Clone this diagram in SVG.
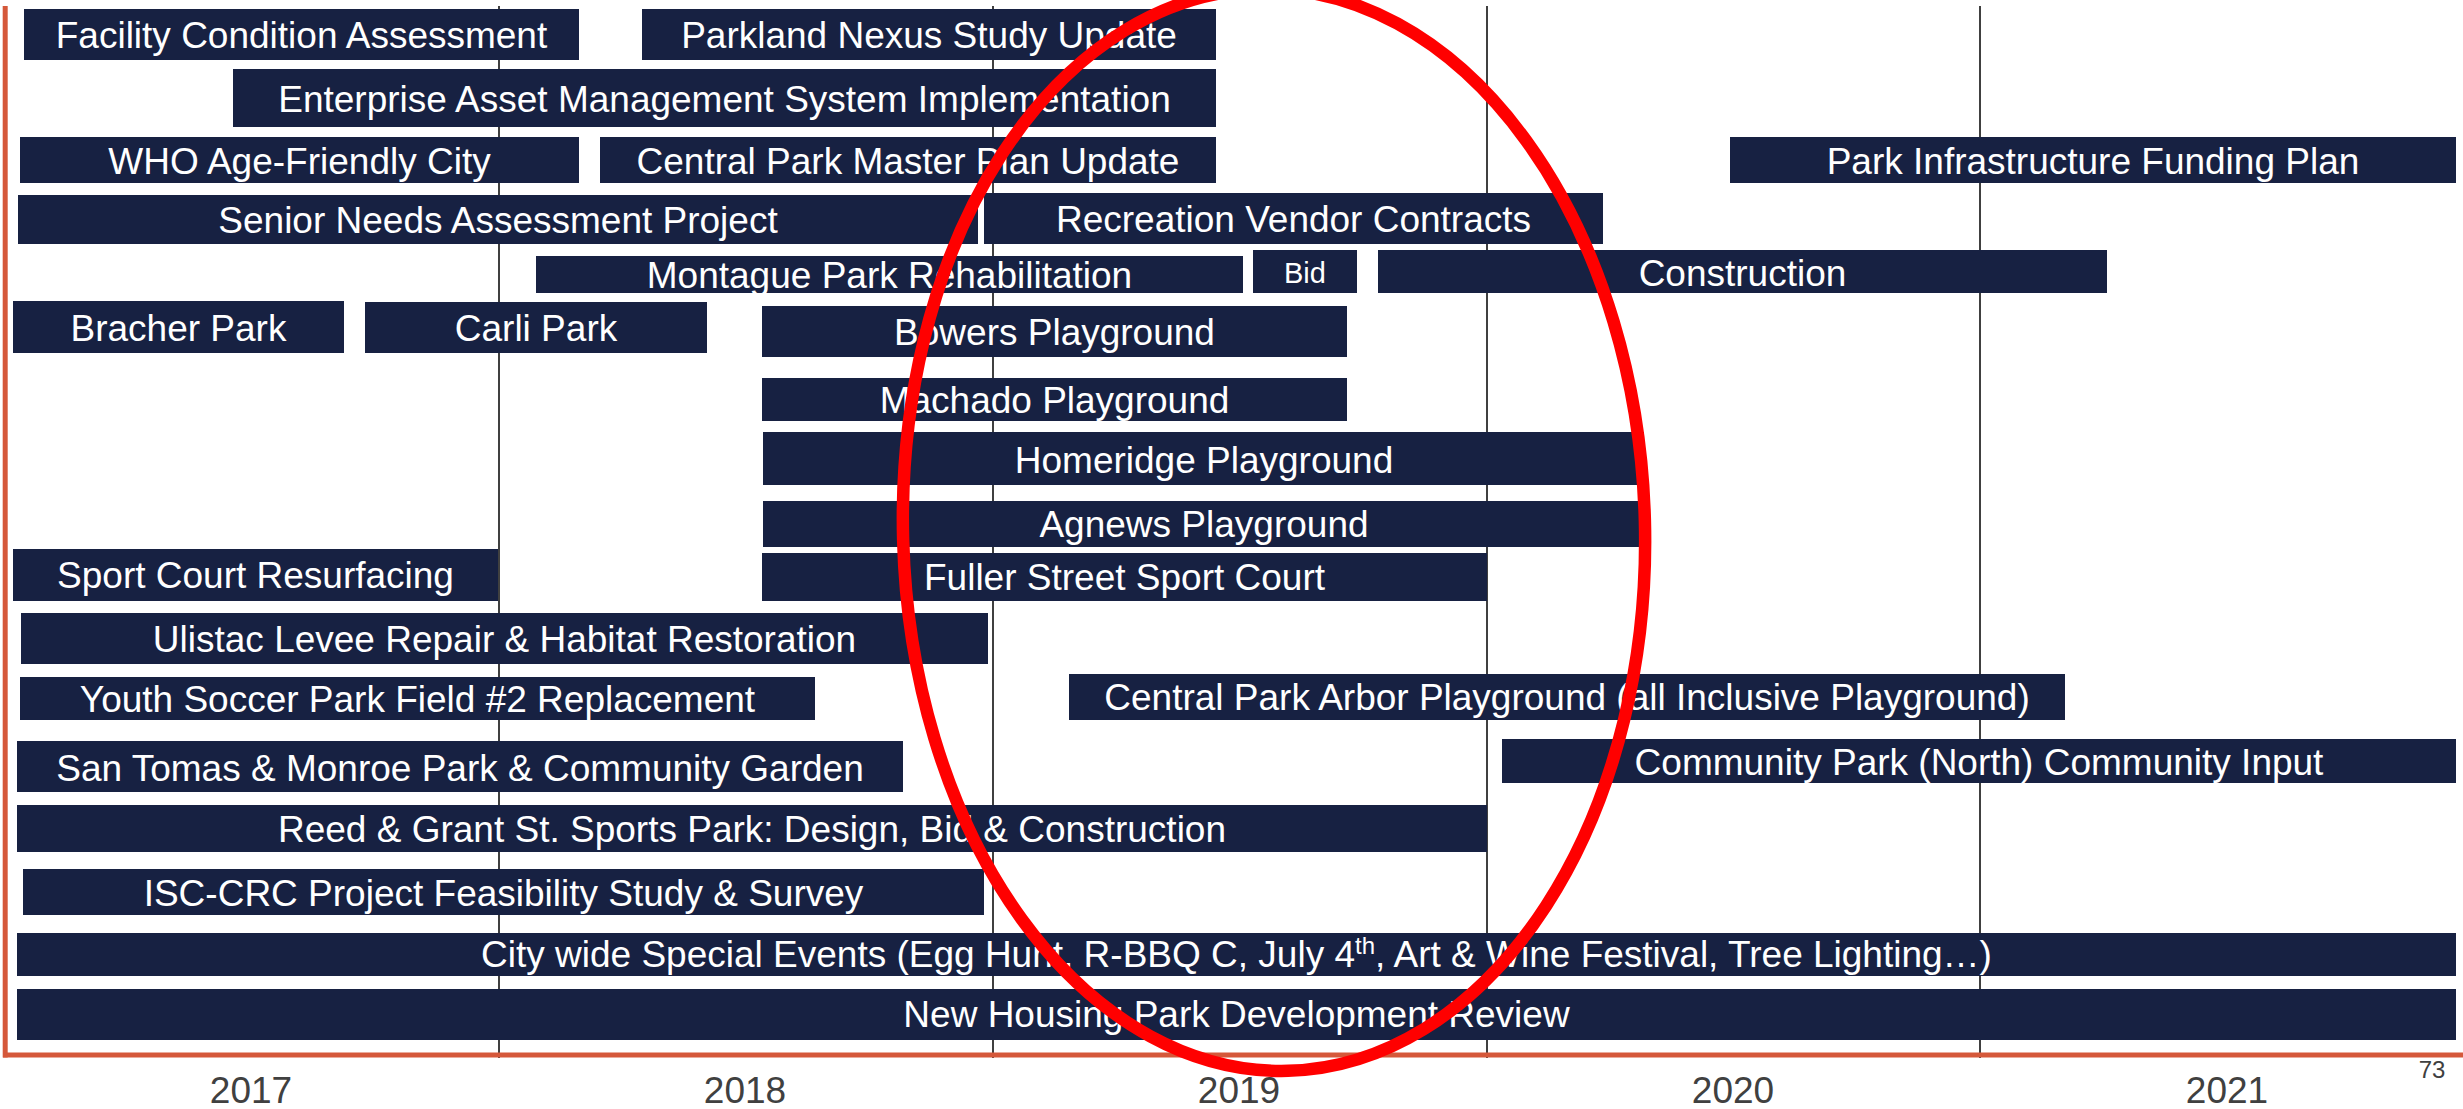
<svg xmlns="http://www.w3.org/2000/svg" width="2463" height="1109" viewBox="0 0 2463 1109">
<style>
.bar{fill:#172142}
.lbl{font-family:"Liberation Sans",Arial,sans-serif;font-size:37px;fill:#ffffff;text-anchor:middle}
.grid{stroke:#404040;stroke-width:2}
.year{font-family:"Liberation Sans",Arial,sans-serif;font-size:37px;fill:#404040;text-anchor:middle}
.frame{stroke:#D5583A;fill:none}
</style>
<rect width="2463" height="1109" fill="#ffffff"/>
<g id="grid">
<line class="grid" x1="499" y1="6" x2="499" y2="1058"/>
<line class="grid" x1="993" y1="6" x2="993" y2="1058"/>
<line class="grid" x1="1487" y1="6" x2="1487" y2="1058"/>
<line class="grid" x1="1980" y1="6" x2="1980" y2="1058"/>
</g>
<g id="frame">
<line class="frame" x1="5.2" y1="6" x2="5.2" y2="1057.5" stroke-width="5"/>
<line class="frame" x1="3" y1="1055" x2="2463" y2="1055" stroke-width="4.8"/>
</g>
<g id="facility"><rect class="bar" x="24" y="9" width="555" height="51"/><text class="lbl" x="301.5" y="48">Facility Condition Assessment</text></g>
<g id="parkland"><rect class="bar" x="642" y="9" width="574" height="51"/><text class="lbl" x="929" y="48">Parkland Nexus Study Update</text></g>
<g id="enterprise"><rect class="bar" x="233" y="69" width="983" height="58"/><text class="lbl" x="724.5" y="111.5">Enterprise Asset Management System Implementation</text></g>
<g id="who"><rect class="bar" x="20" y="137" width="559" height="46"/><text class="lbl" x="299.5" y="174">WHO Age-Friendly City</text></g>
<g id="central-master"><rect class="bar" x="600" y="137" width="616" height="46"/><text class="lbl" x="908" y="173.5">Central Park Master Plan Update</text></g>
<g id="park-infra"><rect class="bar" x="1730" y="137" width="726" height="46"/><text class="lbl" x="2093" y="173.5">Park Infrastructure Funding Plan</text></g>
<g id="senior"><rect class="bar" x="18" y="195" width="960" height="49"/><text class="lbl" x="498" y="233">Senior Needs Assessment Project</text></g>
<g id="recreation"><rect class="bar" x="984" y="193" width="619" height="51"/><text class="lbl" x="1293.5" y="232">Recreation Vendor Contracts</text></g>
<g id="montague"><rect class="bar" x="536" y="256" width="707" height="37"/><text class="lbl" x="889.5" y="288">Montague Park Rehabilitation</text></g>
<g id="bid"><rect class="bar" x="1253" y="250" width="104" height="43"/><text class="lbl" x="1305" y="283" style="font-size:29px">Bid</text></g>
<g id="construction"><rect class="bar" x="1378" y="250" width="729" height="43"/><text class="lbl" x="1742.5" y="286">Construction</text></g>
<g id="bracher"><rect class="bar" x="13" y="301" width="331" height="52"/><text class="lbl" x="178.5" y="340.5">Bracher Park</text></g>
<g id="carli"><rect class="bar" x="365" y="302" width="342" height="51"/><text class="lbl" x="536" y="340.5">Carli Park</text></g>
<g id="bowers"><rect class="bar" x="762" y="306" width="585" height="51"/><text class="lbl" x="1054.5" y="345">Bowers Playground</text></g>
<g id="machado"><rect class="bar" x="762" y="378" width="585" height="43"/><text class="lbl" x="1054.5" y="413">Machado Playground</text></g>
<g id="homeridge"><rect class="bar" x="763" y="432" width="881" height="53"/><text class="lbl" x="1204" y="472.5">Homeridge Playground</text></g>
<g id="agnews"><rect class="bar" x="763" y="501" width="881" height="46"/><text class="lbl" x="1204" y="536.5">Agnews Playground</text></g>
<g id="fuller"><rect class="bar" x="762" y="553" width="725" height="48"/><text class="lbl" x="1124.5" y="590">Fuller Street Sport Court</text></g>
<g id="sport-court"><rect class="bar" x="13" y="549" width="485" height="52"/><text class="lbl" x="255.5" y="588">Sport Court Resurfacing</text></g>
<g id="ulistac"><rect class="bar" x="21" y="613" width="967" height="51"/><text class="lbl" x="504.5" y="651.5">Ulistac Levee Repair &amp; Habitat Restoration</text></g>
<g id="youth"><rect class="bar" x="20" y="677" width="795" height="43"/><text class="lbl" x="417.5" y="711.5">Youth Soccer Park Field #2 Replacement</text></g>
<g id="arbor"><rect class="bar" x="1069" y="674" width="996" height="46"/><text class="lbl" x="1567" y="710">Central Park Arbor Playground (all Inclusive Playground)</text></g>
<g id="san-tomas"><rect class="bar" x="17" y="741" width="886" height="51"/><text class="lbl" x="460" y="780.5">San Tomas &amp; Monroe Park &amp; Community Garden</text></g>
<g id="community-park"><rect class="bar" x="1502" y="739" width="954" height="44"/><text class="lbl" x="1979" y="775">Community Park (North) Community Input</text></g>
<g id="reed"><rect class="bar" x="17" y="805" width="1470" height="47"/><text class="lbl" x="752" y="841.5">Reed &amp; Grant St. Sports Park: Design, Bid &amp; Construction</text></g>
<g id="isc"><rect class="bar" x="23" y="869" width="961" height="46"/><text class="lbl" x="503.5" y="905.5">ISC-CRC Project Feasibility Study &amp; Survey</text></g>
<g id="city-wide"><rect class="bar" x="17" y="933" width="2439" height="43"/><text class="lbl" x="1236.5" y="967">City wide Special Events (Egg Hunt, R-BBQ C, July 4<tspan dy="-13" style="font-size:24px">th</tspan><tspan dy="13">, Art &amp; Wine Festival, Tree Lighting…)</tspan></text></g>
<g id="new-housing"><rect class="bar" x="17" y="989" width="2439" height="51"/><text class="lbl" x="1236.5" y="1026.5">New Housing Park Development Review</text></g>
<g id="connectors"></g>
<g id="years">
<text class="year" x="251" y="1102.5">2017</text>
<text class="year" x="745" y="1102.5">2018</text>
<text class="year" x="1239" y="1102.5">2019</text>
<text class="year" x="1733" y="1102.5">2020</text>
<text class="year" x="2227" y="1102.5">2021</text>
<text x="2432" y="1078" style="font-family:'Liberation Sans',Arial,sans-serif;font-size:24px;fill:#404040;text-anchor:middle">73</text>
</g>
<g id="highlight">
<ellipse cx="1274" cy="530" rx="371" ry="541" fill="none" stroke="#FF0000" stroke-width="12.5" transform="rotate(-1.5 1274 530)"/>
</g>
</svg>
